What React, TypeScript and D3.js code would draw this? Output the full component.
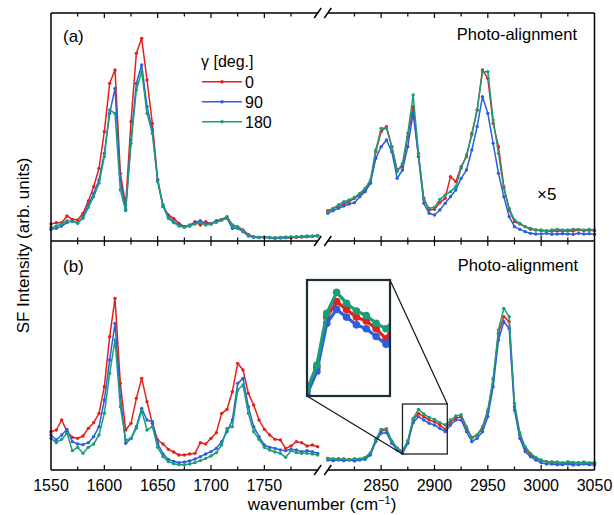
import React from "react";
import * as d3 from "d3";

// sampled wavenumbers (cm-1) for the two axis segments
const wnLow = [1550, 1555, 1560, 1565, 1570, 1575, 1580, 1585, 1590, 1595, 1600, 1605, 1610, 1615, 1620, 1625, 1630, 1635, 1640, 1645, 1650, 1655, 1660, 1665, 1670, 1675, 1680, 1685, 1690, 1695, 1700, 1705, 1710, 1715, 1720, 1725, 1730, 1735, 1740, 1745, 1750, 1755, 1760, 1765, 1770, 1775, 1780, 1785, 1790, 1795, 1800];
const wnHigh = [2800, 2805, 2810, 2815, 2820, 2825, 2830, 2835, 2840, 2845, 2850, 2855, 2860, 2865, 2870, 2875, 2880, 2885, 2890, 2895, 2900, 2905, 2910, 2915, 2920, 2925, 2930, 2935, 2940, 2945, 2950, 2955, 2960, 2965, 2970, 2975, 2980, 2985, 2990, 2995, 3000, 3005, 3010, 3015, 3020, 3025, 3030, 3035, 3040, 3045, 3050];

// panel (a), low-wavenumber segment
const aLow0 = [5.1, 5.5, 5.5, 7.5, 6.5, 6.3, 8.3, 12.0, 16.3, 21.8, 32.8, 47.3, 51.3, 20.3, 10.8, 35.8, 56.3, 60.8, 48.3, 35.3, 18.3, 10.3, 7.8, 6.8, 5.3, 4.3, 4.5, 5.8, 4.8, 5.8, 5.1, 6.1, 6.5, 7.3, 4.8, 4.3, 3.3, 2.0, 1.3, 1.1, 1.1, 1.0, 0.9, 1.1, 1.0, 1.0, 1.1, 1.2, 1.3, 1.4, 1.5];
const aLow90 = [3.5, 3.8, 4.5, 5.5, 6.1, 5.3, 7.3, 10.8, 14.3, 18.3, 26.3, 38.3, 45.8, 18.3, 9.5, 30.3, 47.3, 52.8, 40.3, 33.3, 18.3, 10.8, 7.3, 5.8, 4.8, 4.3, 4.8, 5.5, 6.1, 5.1, 5.3, 5.8, 6.3, 6.8, 3.8, 3.8, 2.8, 1.5, 1.1, 1.0, 1.1, 1.0, 0.8, 0.9, 1.0, 1.1, 1.2, 1.3, 1.3, 1.4, 1.6];
const aLow180 = [4.0, 4.5, 5.1, 6.1, 5.8, 5.5, 6.8, 10.1, 13.3, 17.3, 25.3, 39.3, 38.3, 15.3, 9.1, 29.3, 45.3, 50.8, 38.3, 32.3, 17.8, 10.5, 6.8, 5.5, 4.5, 4.1, 4.5, 5.1, 5.5, 4.8, 5.1, 5.6, 6.3, 7.1, 4.5, 4.1, 3.1, 1.8, 1.3, 1.1, 1.2, 1.1, 1.0, 1.1, 1.2, 1.3, 1.3, 1.4, 1.5, 1.5, 1.7];

// panel (a), high-wavenumber segment (x5)
const aHigh0 = [9.1, 9.8, 10.3, 11.1, 11.8, 12.8, 14.0, 15.3, 17.8, 26.8, 32.8, 34.3, 28.3, 21.3, 22.3, 31.3, 40.3, 25.3, 12.8, 9.3, 9.5, 11.5, 12.8, 19.3, 17.8, 22.3, 25.3, 32.3, 39.3, 51.3, 48.8, 35.3, 28.3, 16.3, 9.3, 5.8, 5.1, 4.3, 3.5, 3.3, 3.1, 3.0, 2.9, 3.1, 3.0, 3.1, 3.0, 3.3, 3.1, 3.2, 3.1];
const aHigh90 = [8.3, 9.1, 9.8, 10.5, 11.1, 11.5, 13.3, 14.8, 17.3, 24.8, 28.3, 30.3, 26.8, 18.8, 21.3, 28.3, 38.3, 25.3, 11.3, 8.3, 7.8, 9.3, 11.3, 13.3, 15.3, 18.8, 21.3, 27.3, 34.3, 43.3, 38.3, 29.3, 20.3, 13.3, 7.3, 4.3, 3.5, 2.8, 2.3, 2.1, 2.1, 2.3, 2.0, 2.1, 2.2, 2.1, 2.0, 2.3, 2.1, 2.2, 2.0];
const aHigh180 = [8.7, 9.8, 10.8, 11.8, 12.3, 13.1, 14.3, 15.8, 18.3, 27.3, 33.8, 33.8, 28.3, 20.8, 23.3, 32.3, 43.8, 26.3, 12.3, 9.8, 10.1, 12.5, 13.8, 14.8, 16.3, 21.8, 25.8, 31.8, 39.3, 50.8, 50.8, 36.3, 26.3, 15.8, 9.8, 6.3, 5.3, 4.3, 3.8, 3.3, 3.3, 3.1, 3.3, 3.5, 3.3, 3.3, 3.5, 3.5, 3.3, 3.5, 3.3];

// panel (b), low-wavenumber segment
const bLow0 = [11.5, 12.0, 15.0, 11.5, 9.8, 9.5, 10.2, 12.5, 14.2, 17.0, 25.0, 40.0, 51.5, 26.0, 12.0, 14.0, 21.5, 27.5, 20.5, 14.0, 9.0, 7.8, 6.2, 5.4, 4.5, 4.5, 4.8, 5.0, 8.2, 7.8, 9.5, 11.2, 17.0, 18.2, 23.5, 32.0, 30.0, 23.0, 19.5, 15.0, 12.2, 10.5, 9.2, 9.0, 6.5, 7.2, 8.5, 8.2, 7.2, 7.5, 7.0];
const bLow90 = [10.5, 9.0, 10.5, 12.2, 8.5, 7.8, 7.6, 8.2, 10.0, 13.0, 21.0, 33.0, 44.0, 22.0, 8.0, 9.5, 13.0, 18.5, 15.0, 14.5, 8.0, 4.8, 3.2, 2.6, 2.2, 2.4, 2.7, 3.3, 4.0, 4.8, 5.5, 6.5, 8.5, 11.5, 15.0, 26.0, 27.5, 19.0, 13.0, 10.0, 7.5, 6.8, 6.5, 6.0, 5.8, 6.2, 6.0, 5.5, 5.8, 5.5, 5.0];
const bLow180 = [9.5, 8.2, 9.2, 11.0, 5.8, 6.8, 5.0, 6.8, 7.8, 10.5, 17.0, 29.0, 39.0, 19.0, 9.0, 9.4, 12.5, 17.8, 12.0, 13.0, 6.8, 4.0, 2.5, 1.9, 1.6, 1.6, 1.8, 2.2, 2.8, 3.5, 4.2, 5.2, 7.5, 12.5, 13.0, 24.0, 25.5, 17.0, 11.5, 9.2, 6.8, 6.0, 5.4, 5.0, 3.8, 5.8, 5.2, 5.0, 5.0, 4.8, 4.5];

// panel (b), high-wavenumber segment
const bHigh0 = [3.5, 3.2, 3.4, 3.0, 3.2, 3.0, 3.2, 3.5, 5.0, 9.0, 11.8, 12.0, 8.5, 6.5, 5.5, 8.5, 15.0, 17.0, 16.0, 15.0, 14.5, 13.5, 12.2, 14.5, 15.5, 16.0, 12.5, 9.8, 10.5, 12.5, 17.5, 27.0, 41.0, 46.0, 44.5, 19.0, 10.5, 6.5, 4.5, 3.5, 2.8, 2.5, 2.2, 2.2, 2.0, 2.2, 2.0, 2.2, 2.2, 2.0, 2.0];
const bHigh90 = [3.0, 2.8, 3.0, 2.8, 3.0, 2.7, 3.0, 3.2, 4.5, 8.5, 11.0, 11.2, 8.0, 6.0, 5.0, 8.0, 14.2, 16.0, 15.0, 14.0, 13.5, 12.5, 11.5, 13.5, 15.0, 15.0, 11.5, 8.5, 9.5, 11.5, 16.0, 25.0, 39.0, 44.5, 42.5, 18.0, 9.5, 5.5, 4.0, 3.0, 2.2, 1.8, 1.8, 1.6, 1.6, 1.8, 1.5, 1.6, 1.8, 1.6, 1.5];
const bHigh180 = [3.5, 3.4, 3.2, 3.4, 3.0, 3.4, 3.3, 3.8, 5.2, 9.2, 12.2, 12.4, 8.7, 6.6, 5.6, 8.8, 15.5, 18.2, 16.8, 15.8, 15.2, 14.2, 13.5, 15.0, 16.2, 16.6, 13.0, 9.5, 10.5, 13.0, 18.0, 27.5, 42.0, 48.5, 46.0, 20.0, 11.2, 7.0, 5.0, 3.8, 3.0, 2.5, 2.5, 2.4, 2.2, 2.5, 2.3, 2.2, 2.4, 2.2, 2.3];

const gammaLabels = ["0", "90", "180"];
const colors = ["#e3211c", "#2a5fdf", "#1b9e77"];

const tickLabelsLow = [1550, 1600, 1650, 1700, 1750];
const tickLabelsHigh = [2850, 2900, 2950, 3000, 3050];
const ticksLow = [1575, 1600, 1625, 1650, 1675, 1700, 1725, 1750, 1775];
const ticksHigh = [2825, 2850, 2875, 2900, 2925, 2950, 2975, 3000, 3025];

// inset window (wavenumber, intensity in panel b)
const insetWn = [2870, 2912];
const insetI = [4.8, 19.8];

const FONT = "'Liberation Sans', Arial, Helvetica, sans-serif";

const W = 614;
const H = 515;
const left = 51;
const right = 594.5;
const breakL = 317.7;
const breakR = 327.8;
const top = 13;
const mid = 241;
const bottom = 470;

const xLow = d3.scaleLinear().domain([1550, 1800]).range([left, breakL]);
const xHigh = d3.scaleLinear().domain([2800, 3050]).range([breakR, right]);
const yA = d3.scaleLinear().domain([0, 68.4]).range([mid, top]);
const yB = d3.scaleLinear().domain([0, 68.7]).range([bottom, mid]);

type Scale = d3.ScaleLinear<number, number>;

const Traces = ({ wn, sets, x, y, sw = 1.5, r = 1.7 }: { wn: number[]; sets: number[][]; x: Scale; y: Scale; sw?: number; r?: number }) => {
  const line = d3
    .line<number>()
    .x((_, i) => x(wn[i]))
    .y((d) => y(d));
  return (
    <g>
      {sets.map((vals, k) => (
        <g key={k}>
          <path d={line(vals) || ""} fill="none" stroke={colors[k]} strokeWidth={sw} strokeLinejoin="round" />
          {vals.map((v, i) => (
            <circle key={i} cx={x(wn[i])} cy={y(v)} r={r} fill={colors[k]} />
          ))}
        </g>
      ))}
    </g>
  );
};

// horizontal frame line with axis break and inward ticks
const Frame = ({ yPos, up, down }: { yPos: number; up: boolean; down: boolean }) => {
  const tick = (xp: number, major: boolean, key: string) => {
    const len = major ? 5 : 3.5;
    return (
      <g key={key}>
        {up && <line x1={xp} x2={xp} y1={yPos} y2={yPos - len} stroke="#000" strokeWidth={1.2} />}
        {down && <line x1={xp} x2={xp} y1={yPos} y2={yPos + len} stroke="#000" strokeWidth={1.2} />}
      </g>
    );
  };
  return (
    <g>
      <line x1={left} x2={breakL} y1={yPos} y2={yPos} stroke="#000" strokeWidth={1.5} />
      <line x1={breakR} x2={right} y1={yPos} y2={yPos} stroke="#000" strokeWidth={1.5} />
      {[breakL, breakR].map((bx) => (
        <line key={bx} x1={bx - 3.5} y1={yPos + 5} x2={bx + 3.5} y2={yPos - 5} stroke="#000" strokeWidth={1.5} />
      ))}
      {ticksLow.map((t) => tick(xLow(t), t % 50 === 0, "l" + t))}
      {ticksHigh.map((t) => tick(xHigh(t), t % 50 === 0, "h" + t))}
    </g>
  );
};

const App = () => {
  const xIn = d3.scaleLinear().domain(insetWn).range([307, 390]);
  const yIn = d3.scaleLinear().domain(insetI).range([396, 280]);
  const rx0 = xHigh(insetWn[0]);
  const rx1 = xHigh(insetWn[1]);
  const ry0 = yB(insetI[1]);
  const ry1 = yB(insetI[0]);

  return (
    <svg width={W} height={H} style={{ position: "absolute", left: 0, top: 0, background: "#fff" }} fontFamily={FONT}>
      <defs>
        <clipPath id="insetClip">
          <rect x={307} y={280} width={83} height={116} />
        </clipPath>
      </defs>

      {/* panel (a) */}
      <Traces wn={wnLow} sets={[aLow0, aLow90, aLow180]} x={xLow} y={yA} />
      <Traces wn={wnHigh} sets={[aHigh0, aHigh90, aHigh180]} x={xHigh} y={yA} />

      {/* panel (b) */}
      <Traces wn={wnLow} sets={[bLow0, bLow90, bLow180]} x={xLow} y={yB} />
      <Traces wn={wnHigh} sets={[bHigh0, bHigh90, bHigh180]} x={xHigh} y={yB} />

      {/* zoom box and connectors */}
      <rect x={rx0} y={ry0} width={rx1 - rx0} height={ry1 - ry0} fill="none" stroke="#222" strokeWidth={1.3} />
      <line x1={390} y1={280} x2={rx1} y2={ry0} stroke="#111" strokeWidth={1.2} />
      <line x1={307} y1={396} x2={rx0} y2={ry1} stroke="#111" strokeWidth={1.2} />

      {/* inset */}
      <rect x={307} y={280} width={83} height={116} fill="#fff" />
      <g clipPath="url(#insetClip)">
        <Traces wn={wnHigh} sets={[bHigh0, bHigh90, bHigh180]} x={xIn} y={yIn} sw={3.2} r={3.8} />
      </g>
      <rect x={307} y={280} width={83} height={116} fill="none" stroke="#1e2d35" strokeWidth={2.2} />

      {/* frame */}
      <Frame yPos={top} up={false} down={true} />
      <Frame yPos={mid} up={true} down={true} />
      <Frame yPos={bottom} up={true} down={false} />
      <line x1={left} x2={left} y1={top} y2={bottom} stroke="#000" strokeWidth={1.5} />
      <line x1={right} x2={right} y1={top} y2={bottom} stroke="#000" strokeWidth={1.5} />

      {/* tick labels */}
      {tickLabelsLow.map((t) => (
        <text key={t} x={xLow(t)} y={491} textAnchor="middle" fontSize={16}>
          {t}
        </text>
      ))}
      {tickLabelsHigh.map((t) => (
        <text key={t} x={xHigh(t)} y={491} textAnchor="middle" fontSize={16}>
          {t}
        </text>
      ))}

      <text x={322} y={510} textAnchor="middle" fontSize={17}>
        wavenumber (cm
        <tspan dy={-6} fontSize={11}>−1</tspan>
        <tspan dy={6}>)</tspan>
      </text>
      <text transform="translate(29,245.5) rotate(-90)" textAnchor="middle" fontSize={17}>
        SF Intensity (arb. units)
      </text>

      {/* panel annotations */}
      <text x={63} y={42} fontSize={17}>(a)</text>
      <text x={63} y={272} fontSize={17}>(b)</text>
      <text x={577} y={40} textAnchor="end" fontSize={16.5}>Photo-alignment</text>
      <text x={578} y={271} textAnchor="end" fontSize={16.5}>Photo-alignment</text>
      <text x={537} y={200} fontSize={17}>×5</text>

      {/* legend */}
      <text x={201} y={67} fontSize={16}>γ [deg.]</text>
      {gammaLabels.map((g, i) => {
        const ly = 81.7 + i * 20;
        return (
          <g key={g}>
            <line x1={202} x2={242} y1={ly} y2={ly} stroke={colors[i]} strokeWidth={1.5} />
            <circle cx={222} cy={ly} r={1.8} fill={colors[i]} />
            <text x={245} y={ly + 6} fontSize={16}>
              {g}
            </text>
          </g>
        );
      })}
    </svg>
  );
};

export default App;
